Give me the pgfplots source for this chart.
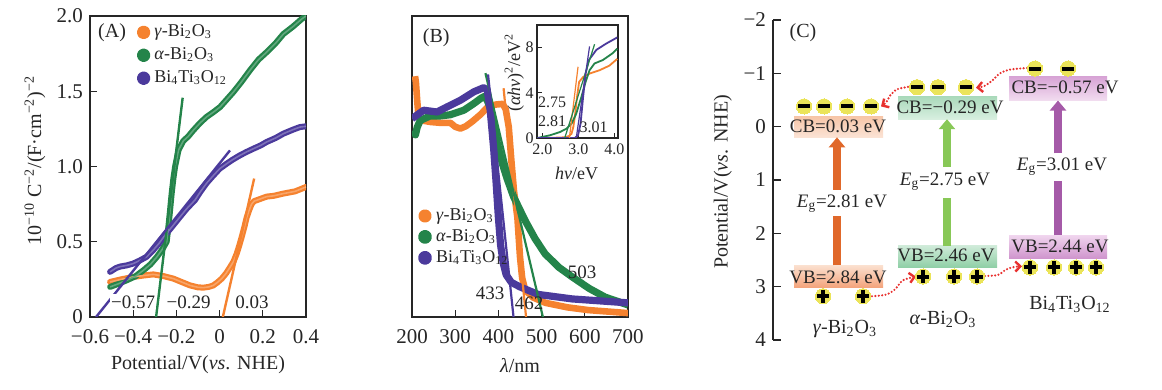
\documentclass[border=0pt]{standalone}
\usepackage{fontspec}
\setmainfont{Liberation Serif}
\usepackage{pgfplots}
\pgfplotsset{compat=1.18}
\usetikzlibrary{arrows.meta}
\definecolor{cor}{HTML}{F5822F}
\definecolor{cgr}{HTML}{24844A}
\definecolor{cpu}{HTML}{4B3A9C}
\definecolor{txt}{HTML}{262626}
\definecolor{aor}{HTML}{E0682A}
\definecolor{agr}{HTML}{88C857}
\definecolor{apu}{HTML}{A55AA8}
\definecolor{cyel}{HTML}{EBE45A}
\definecolor{cred}{HTML}{E8312F}
\definecolor{gcbT}{HTML}{F7C6A8}
\definecolor{gcbB}{HTML}{FBE3D5}
\definecolor{gvbT}{HTML}{FBE0CF}
\definecolor{gvbB}{HTML}{F4A47C}
\definecolor{acbT}{HTML}{A9D9BA}
\definecolor{acbB}{HTML}{D8EFE0}
\definecolor{avbT}{HTML}{CFEBD9}
\definecolor{avbB}{HTML}{8FCFA6}
\definecolor{bcbT}{HTML}{D7A3D5}
\definecolor{bcbB}{HTML}{F2DDF0}
\definecolor{bvbT}{HTML}{F0D5EE}
\definecolor{bvbB}{HTML}{CF94CD}
\begin{document}
\begin{tikzpicture}
\useasboundingbox (0,0) rectangle (581pt,195pt);
\pgfplotsset{every axis/.append style={scale only axis, anchor=south west, tick align=inside,
  axis line style={line width=0.6pt, txt}, major tick length=3.5pt, tick style={line width=0.6pt, txt},
  tick label style={font=\fontsize{10.5}{12}\selectfont, txt},
  label style={font=\fontsize{10}{12}\selectfont, txt},
  /pgf/number format/assume math mode=true}}
% ---------------- Panel A ----------------
\begin{axis}[at={(45pt,36.5pt)}, width=108pt, height=150.5pt,
  xmin=-0.6, xmax=0.4, ymin=0, ymax=2,
  xtick={-0.6,-0.4,-0.2,0,0.2,0.4}, xticklabels={−0.6,−0.4,−0.2,0,0.2,0.4},
  ytick={0,0.5,1,1.5,2}, yticklabels={0,0.5,1.0,1.5,2.0},
  xtick pos=bottom, ytick pos=left,
  xticklabel style={yshift=-2.5pt},
  xlabel={Potential/V(\textit{vs}. NHE)},
  ylabel={10\textsuperscript{−10} C\textsuperscript{−2}/(F·cm\textsuperscript{−2})\textsuperscript{−2}},
  xlabel style={at={(axis description cs:0.5,-0.16)}, anchor=center},
  ylabel style={at={(axis description cs:-0.255,0.52)}, anchor=center},
  legend style={at={(axis cs:-0.385,1.97)}, anchor=north west, draw=none, fill=none,
    font=\fontsize{9}{10}\selectfont, row sep=0pt, inner sep=0pt, text=txt},
  legend cell align=left,
  legend image code/.code={\fill[#1] (0pt,0pt) circle (1.9pt);}]
\addplot[cor, line width=3pt, line cap=round, line join=round] coordinates {(-0.507,0.233)(-0.45,0.252)(-0.4,0.266)(-0.35,0.276)(-0.307,0.283)(-0.26,0.272)(-0.214,0.255)(-0.175,0.232)(-0.137,0.21)(-0.1,0.197)(-0.075,0.195)(-0.05,0.2)(-0.029,0.21)(-0.01,0.23)(0.01,0.255)(0.03,0.29)(0.048,0.33)(0.065,0.37)(0.079,0.42)(0.09,0.47)(0.102,0.53)(0.115,0.6)(0.125,0.66)(0.137,0.71)(0.148,0.75)(0.16,0.77)(0.17,0.775)(0.218,0.80)(0.25,0.805)(0.295,0.82)(0.35,0.835)(0.4,0.864)};
\addlegendentry{\textit{γ}-Bi\textsubscript{2}O\textsubscript{3}}
\addplot[cgr, line width=3pt, line cap=round, line join=round] coordinates {(-0.507,0.2)(-0.47,0.22)(-0.43,0.244)(-0.39,0.27)(-0.353,0.31)(-0.32,0.35)(-0.29,0.4)(-0.265,0.45)(-0.245,0.5)(-0.237,0.6)(-0.23,0.7)(-0.222,0.82)(-0.214,0.92)(-0.206,1.0)(-0.19,1.11)(-0.168,1.17)(-0.145,1.2)(-0.122,1.24)(-0.09,1.29)(-0.06,1.33)(-0.03,1.36)(0.002,1.395)(0.03,1.44)(0.064,1.495)(0.1,1.56)(0.141,1.64)(0.18,1.71)(0.218,1.76)(0.26,1.82)(0.295,1.88)(0.34,1.93)(0.38,1.98)(0.4,2.0)};
\addlegendentry{\textit{α}-Bi\textsubscript{2}O\textsubscript{3}}
\addplot[cpu, line width=3pt, line cap=round, line join=round] coordinates {(-0.507,0.3)(-0.48,0.325)(-0.461,0.335)(-0.43,0.343)(-0.4,0.355)(-0.37,0.375)(-0.338,0.4)(-0.307,0.445)(-0.28,0.49)(-0.26,0.53)(-0.22,0.6)(-0.183,0.666)(-0.152,0.72)(-0.114,0.777)(-0.09,0.83)(-0.06,0.89)(-0.029,0.94)(0,0.985)(0.033,1.019)(0.06,1.045)(0.094,1.074)(0.125,1.097)(0.156,1.118)(0.19,1.14)(0.218,1.163)(0.26,1.19)(0.295,1.218)(0.34,1.245)(0.372,1.262)(0.4,1.267)};
\addlegendentry{Bi\textsubscript{4}Ti\textsubscript{3}O\textsubscript{12}}
% subtle lighter cores (dot-chain look)
\addplot[cor!72!white, line width=0.8pt, forget plot] coordinates {(-0.507,0.233)(-0.45,0.252)(-0.4,0.266)(-0.35,0.276)(-0.307,0.283)(-0.26,0.272)(-0.214,0.255)(-0.175,0.232)(-0.137,0.21)(-0.1,0.197)(-0.075,0.195)(-0.05,0.2)(-0.029,0.21)(-0.01,0.23)(0.01,0.255)(0.03,0.29)(0.048,0.33)(0.065,0.37)(0.079,0.42)(0.09,0.47)(0.102,0.53)(0.115,0.6)(0.125,0.66)(0.137,0.71)(0.148,0.75)(0.16,0.77)(0.17,0.775)(0.218,0.80)(0.25,0.805)(0.295,0.82)(0.35,0.835)(0.4,0.864)};
\addplot[cgr!72!white, line width=0.8pt, forget plot] coordinates {(-0.507,0.2)(-0.47,0.22)(-0.43,0.244)(-0.39,0.27)(-0.353,0.31)(-0.32,0.35)(-0.29,0.4)(-0.265,0.45)(-0.245,0.5)(-0.237,0.6)(-0.23,0.7)(-0.222,0.82)(-0.214,0.92)(-0.206,1.0)(-0.19,1.11)(-0.168,1.17)(-0.145,1.2)(-0.122,1.24)(-0.09,1.29)(-0.06,1.33)(-0.03,1.36)(0.002,1.395)(0.03,1.44)(0.064,1.495)(0.1,1.56)(0.141,1.64)(0.18,1.71)(0.218,1.76)(0.26,1.82)(0.295,1.88)(0.34,1.93)(0.38,1.98)(0.4,2.0)};
\addplot[cpu!72!white, line width=0.8pt, forget plot] coordinates {(-0.507,0.3)(-0.48,0.325)(-0.461,0.335)(-0.43,0.343)(-0.4,0.355)(-0.37,0.375)(-0.338,0.4)(-0.307,0.445)(-0.28,0.49)(-0.26,0.53)(-0.22,0.6)(-0.183,0.666)(-0.152,0.72)(-0.114,0.777)(-0.09,0.83)(-0.06,0.89)(-0.029,0.94)(0,0.985)(0.033,1.019)(0.06,1.045)(0.094,1.074)(0.125,1.097)(0.156,1.118)(0.19,1.14)(0.218,1.163)(0.26,1.19)(0.295,1.218)(0.34,1.245)(0.372,1.262)(0.4,1.267)};
\addplot[cor, line width=1.2pt, forget plot] coordinates {(0.015,0)(0.16,0.92)};
\addplot[cgr, line width=1.2pt, forget plot] coordinates {(-0.294,0)(-0.171,1.457)};
\addplot[cpu, line width=1.2pt, forget plot] coordinates {(-0.572,0)(0.048,1.107)};
\node[txt, font=\fontsize{10}{12}\selectfont] at (axis cs:-0.498,1.887) {(A)};
\node[txt, font=\fontsize{9.5}{11}\selectfont, fill=white, inner sep=0.5pt] at (axis cs:-0.40,0.1) {−0.57};
\node[txt, font=\fontsize{9.5}{11}\selectfont, fill=white, inner sep=0.5pt] at (axis cs:-0.143,0.1) {−0.29};
\node[txt, font=\fontsize{9.5}{11}\selectfont] at (axis cs:0.15,0.1) {0.03};
\end{axis}
% ---------------- Panel B ----------------
\begin{axis}[at={(206pt,36.5pt)}, width=108pt, height=150.5pt,
  xmin=200, xmax=700, ymin=0, ymax=1,
  xtick={200,300,400,500,600,700}, ytick=\empty,
  xtick pos=bottom,
  xticklabel style={yshift=-2.5pt},
  xlabel={\textit{λ}/nm},
  xlabel style={at={(axis description cs:0.5,-0.16)}, anchor=center},
  legend style={at={(axis cs:213,0.375)}, anchor=north west, draw=none, fill=none,
    font=\fontsize{9}{10}\selectfont, row sep=-1pt, inner sep=0pt, text=txt},
  legend cell align=left,
  legend image code/.code={\fill[#1] (0pt,0pt) circle (1.7pt);}]
\addplot[cor, line width=3.3pt, line join=round] coordinates {(207,0.80)(209,0.78)(212,0.72)(215,0.665)(220,0.655)(227,0.652)(242,0.648)(266,0.645)(289,0.645)(300,0.632)(312,0.626)(325,0.634)(340,0.65)(358,0.672)(377,0.700)(395,0.706)(410,0.708)(417,0.69)(424,0.631)(430,0.52)(436,0.42)(444,0.33)(450,0.20)(455,0.13)(462,0.09)(480,0.065)(509,0.047)(560,0.032)(608,0.023)(700,0.013)};
\addlegendentry{\textit{γ}-Bi\textsubscript{2}O\textsubscript{3}}
\addplot[cgr, line width=3.6pt, line join=round] coordinates {(205,0.62)(208,0.605)(212,0.63)(219,0.653)(242,0.668)(266,0.668)(289,0.672)(320,0.687)(343,0.709)(360,0.727)(368,0.733)(374,0.72)(381,0.695)(389,0.642)(397,0.58)(409,0.51)(420,0.46)(435,0.40)(462,0.32)(485,0.26)(508,0.21)(540,0.165)(571,0.133)(610,0.095)(647,0.066)(700,0.04)};
\addlegendentry{\textit{α}-Bi\textsubscript{2}O\textsubscript{3}}
\addplot[cpu, line width=3.6pt, line join=round] coordinates {(200,0.659)(227,0.687)(258,0.681)(281,0.698)(312,0.72)(343,0.748)(366,0.762)(374,0.755)(381,0.687)(389,0.56)(395,0.44)(400,0.33)(405,0.24)(411,0.18)(418,0.14)(430,0.115)(450,0.1)(492,0.075)(571,0.06)(700,0.047)};
\addlegendentry{Bi\textsubscript{4}Ti\textsubscript{3}O\textsubscript{12}}
\addplot[cor, line width=1.1pt, forget plot] coordinates {(412,0.76)(464,0)};
\addplot[cgr, line width=1.1pt, forget plot] coordinates {(370,0.81)(503,0)};
\addplot[cpu, line width=1.1pt, forget plot] coordinates {(376,0.806)(435,0)};
\node[txt, font=\fontsize{10}{12}\selectfont] at (axis cs:256,0.927) {(B)};
\node[txt, font=\fontsize{9.5}{11}\selectfont] at (axis cs:381,0.08) {433};
\node[txt, font=\fontsize{9.5}{11}\selectfont] at (axis cs:471,0.045) {462};
\node[txt, font=\fontsize{9.5}{11}\selectfont] at (axis cs:594,0.15) {503};
\end{axis}
% ---------------- Inset ----------------
\begin{axis}[at={(268.5pt,126pt)}, width=40.5pt, height=56.5pt,
  xmin=1.85, xmax=4.1, ymin=0, ymax=10,
  xtick={2,3,4}, xticklabels={2.0,3.0,4.0}, ytick={0,4,8},
  xtick pos=bottom, ytick pos=left, major tick length=2.5pt,
  axis background/.style={fill=white},
  tick label style={font=\fontsize{8}{9}\selectfont},
  xticklabel style={inner sep=1.5pt, yshift=-1pt},
  yticklabel style={inner sep=1.5pt},
  xlabel={\textit{hν}/eV}, ylabel={(\textit{αhν})\textsuperscript{2}/eV\textsuperscript{2}},
  xlabel style={at={(axis description cs:0.49,-0.31)}, anchor=center, font=\fontsize{9}{10}\selectfont},
  ylabel style={at={(axis description cs:-0.28,0.58)}, anchor=center, font=\fontsize{9}{10}\selectfont}]
\addplot[cor, line width=0.9pt] coordinates {(1.86,0)(2.3,0.02)(2.6,0.06)(2.67,0.09)(2.75,0.2)(2.81,0.38)(2.86,1.0)(2.9,1.86)(2.96,3.6)(3.02,4.96)(3.13,5.4)(3.31,5.7)(3.59,6.0)(3.86,6.4)(4.08,7.0)};
\addplot[cgr, line width=0.9pt] coordinates {(1.86,0)(2.21,0.24)(2.49,0.53)(2.67,0.83)(2.81,1.27)(2.94,2.15)(3.08,3.6)(3.2,4.96)(3.31,6.0)(3.45,6.6)(3.68,6.9)(3.95,7.5)(4.08,7.9)};
\addplot[cpu, line width=0.9pt] coordinates {(1.86,0)(2.9,0)(2.99,0.24)(3.06,1.27)(3.13,3.6)(3.2,5.7)(3.29,6.9)(3.5,7.8)(3.77,8.35)(4.08,8.9)};
\addplot[cor, line width=0.6pt] coordinates {(2.75,0)(2.99,6.3)};
\addplot[cgr, line width=0.6pt] coordinates {(2.62,0)(3.45,8.3)};
\addplot[cpu, line width=0.6pt] coordinates {(2.94,0)(3.31,8.1)};
\node[txt, font=\fontsize{8}{9}\selectfont] at (axis cs:2.27,3.2) {2.75};
\node[txt, font=\fontsize{8}{9}\selectfont] at (axis cs:2.27,1.5) {2.81};
\node[txt, font=\fontsize{8}{9}\selectfont] at (axis cs:3.42,0.95) {3.01};
\end{axis}
% ---------------- Panel C ----------------
\begin{axis}[at={(386.5pt,25pt)}, width=188.5pt, height=160pt,
  xmin=773, xmax=1150, ymin=-2, ymax=4, y dir=reverse,
  hide x axis, axis y line*=left, clip=false, major tick length=4pt,
  ytick={-2,-1,0,1,2,3,4}, yticklabels={−2,−1,0,1,2,3,4},
  ylabel={Potential/V(\textit{vs}. NHE)},
  ylabel style={at={(axis description cs:-0.133,0.494)}, anchor=center}]
% band boxes
\addplot[draw=none, top color=gcbT, bottom color=gcbB] coordinates {(794,-0.19)(883,-0.19)(883,0.20)(794,0.20)} -- cycle;
\addplot[draw=none, top color=gvbT, bottom color=gvbB] coordinates {(794,2.60)(883,2.60)(883,3.01)(794,3.01)} -- cycle;
\addplot[draw=none, top color=acbT, bottom color=acbB] coordinates {(898,-0.57)(997,-0.57)(997,-0.14)(898,-0.14)} -- cycle;
\addplot[draw=none, top color=avbT, bottom color=avbB] coordinates {(898,2.23)(997,2.23)(997,2.64)(898,2.64)} -- cycle;
\addplot[draw=none, top color=bcbT, bottom color=bcbB] coordinates {(1009,-0.94)(1107,-0.94)(1107,-0.49)(1009,-0.49)} -- cycle;
\addplot[draw=none, top color=bvbT, bottom color=bvbB] coordinates {(1009,2.04)(1107,2.04)(1107,2.47)(1009,2.47)} -- cycle;
% band gap arrows
\addplot[aor, line width=3.8pt] coordinates {(837,2.60)(837,1.68)};
\addplot[aor, line width=3.8pt, -{Triangle[length=5pt,width=8pt]}] coordinates {(837,1.18)(837,0.20)};
\addplot[agr, line width=3.8pt] coordinates {(947,2.23)(947,1.33)};
\addplot[agr, line width=3.8pt, -{Triangle[length=5pt,width=8pt]}] coordinates {(947,0.75)(947,-0.14)};
\addplot[apu, line width=3.8pt] coordinates {(1058,2.04)(1058,1.01)};
\addplot[apu, line width=3.8pt, -{Triangle[length=5pt,width=8pt]}] coordinates {(1058,0.50)(1058,-0.49)};
% texts
\begin{scope}[every node/.style={txt, font=\fontsize{9.5}{11}\selectfont, inner sep=0pt}]
\node at (axis cs:838,0.0) {CB=0.03 eV};
\node at (axis cs:838,2.83) {VB=2.84 eV};
\node at (axis cs:842,1.45) {\textit{E}\textsubscript{g}=2.81 eV};
\node at (axis cs:950,-0.37) {CB=−0.29 eV};
\node at (axis cs:946,2.42) {VB=2.46 eV};
\node at (axis cs:945,1.04) {\textit{E}\textsubscript{g}=2.75 eV};
\node at (axis cs:1065,-0.74) {CB=−0.57 eV};
\node at (axis cs:1060,2.24) {VB=2.44 eV};
\node at (axis cs:1062,0.74) {\textit{E}\textsubscript{g}=3.01 eV};
\end{scope}
\begin{scope}[every node/.style={txt, font=\fontsize{10}{12}\selectfont, inner sep=0pt}]
\node at (axis cs:845,3.80) {\textit{γ}-Bi\textsubscript{2}O\textsubscript{3}};
\node at (axis cs:943,3.61) {\textit{α}-Bi\textsubscript{2}O\textsubscript{3}};
\node at (axis cs:1070,3.33) {Bi\textsubscript{4}Ti\textsubscript{3}O\textsubscript{12}};
\node at (axis cs:803,-1.76) {(C)};
\end{scope}
% transfer arrows
\addplot[cred, line width=1.2pt, dash pattern=on 0pt off 1.7pt, line cap=round, smooth, -{Straight Barb[length=2.5pt,width=5pt]}] coordinates {(908,-0.745)(897,-0.70)(890,-0.58)(886,-0.45)(881,-0.38)};
\addplot[cred, line width=1.2pt, dash pattern=on 0pt off 1.7pt, line cap=round, smooth, -{Straight Barb[length=2.5pt,width=5pt]}] coordinates {(1027,-1.1)(1010,-1.07)(1000,-1.0)(992,-0.86)(984,-0.76)(976,-0.73)};
\addplot[cred, line width=1.2pt, dash pattern=on 0pt off 1.7pt, line cap=round, smooth, -{Straight Barb[length=2.5pt,width=5pt]}] coordinates {(872,3.18)(886,3.15)(895,3.05)(903,2.88)(916,2.81)};
\addplot[cred, line width=1.2pt, dash pattern=on 0pt off 1.7pt, line cap=round, smooth, -{Straight Barb[length=2.5pt,width=5pt]}] coordinates {(985,2.80)(998,2.78)(1006,2.68)(1014,2.63)(1022,2.62)};
% electrons and holes
\addplot[cyel, only marks, mark=*, mark size=3.8pt, mark options={fill=cyel, draw=cyel, line width=0pt}] coordinates {(804,-0.38)(824,-0.38)(847,-0.38)(871,-0.38)(917,-0.74)(938,-0.74)(966,-0.74)(1035,-1.09)(1068,-1.09)(823,3.18)(863,3.18)(923,2.81)(954,2.81)(977,2.81)(1030,2.64)(1054,2.64)(1076,2.64)(1096,2.64)};
\addplot[only marks, mark=-, mark size=3.0pt, line width=2pt, black] coordinates {(804,-0.38)(824,-0.38)(847,-0.38)(871,-0.38)(917,-0.74)(938,-0.74)(966,-0.74)(1035,-1.09)(1068,-1.09)};
\addplot[only marks, mark=+, mark size=3.2pt, line width=2pt, black] coordinates {(823,3.18)(863,3.18)(923,2.81)(954,2.81)(977,2.81)(1030,2.64)(1054,2.64)(1076,2.64)(1096,2.64)};
\end{axis}
\end{tikzpicture}
\end{document}
